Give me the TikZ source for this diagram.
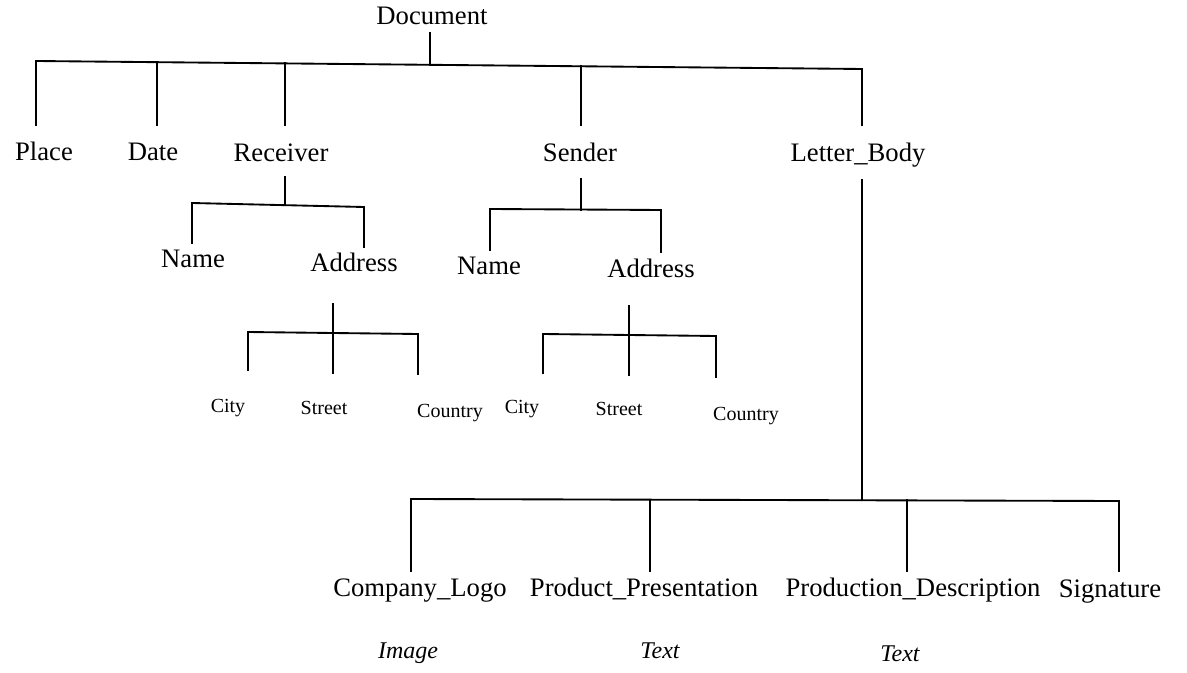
\documentclass[tikz,border=0pt]{standalone}
\usepackage{fontspec}
\setmainfont{Liberation Serif}
\begin{document}
\begin{tikzpicture}[x=0.75pt,y=-0.75pt,
  lbl/.style={font=\fontsize{20}{24}\selectfont, inner sep=0pt, anchor=base},
  leaf/.style={font=\fontsize{15}{18}\selectfont, inner sep=0pt, anchor=base},
  kind/.style={font=\fontsize{18}{22}\selectfont\itshape, inner sep=0pt, anchor=base},
  tree/.style={line width=1.4pt, line cap=rect}]
\useasboundingbox (0,0) rectangle (1187,673);

% ---------- labels ----------
\node[lbl] (doc)   at (432,25)  {Document};
\node[lbl] (place) at (44,161)  {Place};
\node[lbl] (date)  at (153,161) {Date};
\node[lbl] (recv)  at (281,162) {Receiver};
\node[lbl] (send)  at (580,162) {Sender};
\node[lbl] (body)  at (858,162) {Letter\_Body};

\node[lbl] (rname) at (193,268) {Name};
\node[lbl] (raddr) at (354,272) {Address};
\node[lbl] (sname) at (489,275) {Name};
\node[lbl] (saddr) at (651,277) {Address};

\node[leaf] (rcity)    at (228,412) {City};
\node[leaf] (rstreet)  at (324,414) {Street};
\node[leaf] (rcountry) at (450,417) {Country};
\node[leaf] (scity)    at (522,413) {City};
\node[leaf] (sstreet)  at (619,415) {Street};
\node[leaf] (scountry) at (746,420) {Country};

\node[lbl] (logo) at (420,596)  {Company\_Logo};
\node[lbl] (pres) at (644,596)  {Product\_Presentation};
\node[lbl] (desc) at (913,596)  {Production\_Description};
\node[lbl] (sign) at (1110,597) {Signature};

\node[kind] (logok) at (408,658) {Image};
\node[kind] (presk) at (660,658) {Text};
\node[kind] (desck) at (900,661) {Text};

% ---------- junctions ----------
\coordinate (j0)    at (430,65);
\coordinate (jrecv) at (285,205);
\coordinate (jsend) at (581,210);
\coordinate (jra)   at (333,333);
\coordinate (jsa)   at (629,335);
\coordinate (jbody) at (862,500);

% ---------- Document level (the bar drops slightly to the right) ----------
\draw[tree] (doc.base -| j0) ++(0,8) -- (j0);
\draw[tree] (36,61) -- (862,69);
\foreach \x/\y in {36/61,157/62.2,285/63.4,581/66.3,862/69}
  \draw[tree] (\x,\y) -- (\x,125);

% ---------- Receiver ----------
\draw[tree] (recv.base -| jrecv) ++(0,15) -- (jrecv);
\draw[tree] (192,203) -- (364,207);
\draw[tree] (192,203) -- (192,243);
\draw[tree] (364,207) -- (364,247);

\draw[tree] (raddr.base -| jra) ++(0,32) -- (333,373);
\draw[tree] (248,332) -- (418,334);
\draw[tree] (248,332) -- (248,370);
\draw[tree] (418,334) -- (418,374);

% ---------- Sender ----------
\draw[tree] (send.base -| jsend) ++(0,17) -- (jsend);
\draw[tree] (490,209) -- (661,210);
\draw[tree] (490,209) -- (490,250);
\draw[tree] (661,210) -- (661,252);

\draw[tree] (saddr.base -| jsa) ++(0,29) -- (629,375);
\draw[tree] (543,334) -- (716,336);
\draw[tree] (543,334) -- (543,373);
\draw[tree] (716,336) -- (716,377);

% ---------- Letter_Body ----------
\draw[tree] (body.base -| jbody) ++(0,18) -- (jbody);
\draw[tree] (411,499) -- (1119,501);
\foreach \x/\y in {411/499,650/500,907/500,1119/501}
  \draw[tree] (\x,\y) -- (\x,571);
\end{tikzpicture}
\end{document}
